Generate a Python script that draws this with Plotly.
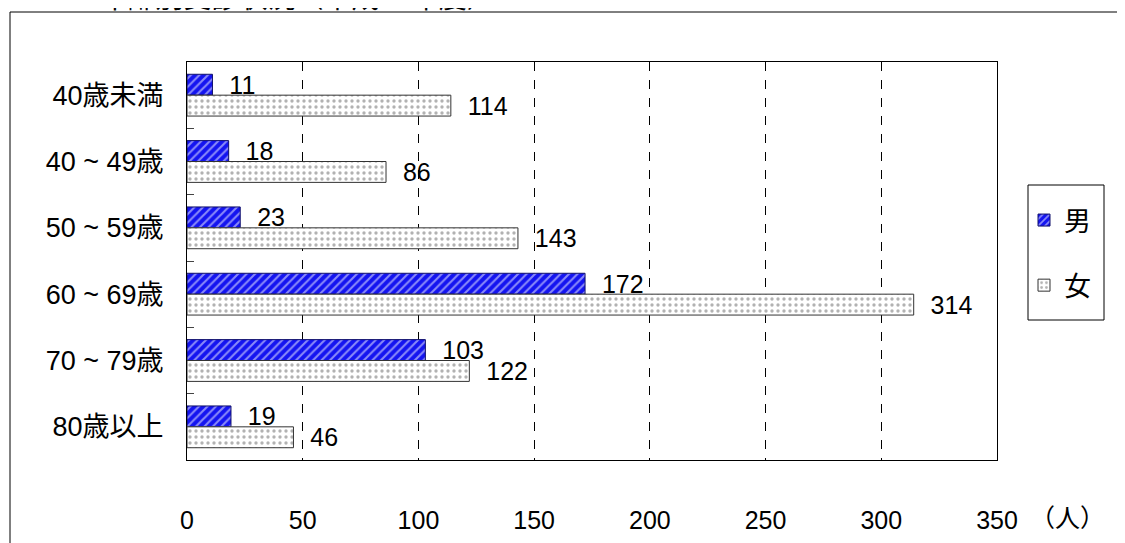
import plotly.graph_objects as go

categories = ["40歳未満", "40 ~ 49歳", "50 ~ 59歳", "60 ~ 69歳", "70 ~ 79歳", "80歳以上"]
male = [11, 18, 23, 172, 103, 19]
female = [114, 86, 143, 314, 122, 46]
series_names = ["男", "女"]
x_ticks = [0, 50, 100, 150, 200, 250, 300, 350]
title_text = "4　　年齢別受診状況（平成16年度）"
unit_text = "（人）"

FONT = "Liberation Sans, Arial, Noto Sans CJK JP, sans-serif"
W, H = 1125, 543
OFF = 8  # page body margin
L, R, T, B = 187 - OFF, 997 - OFF, 62 - OFF, 460 - OFF

def px(x):
    return (x - OFF - L) / (R - L)

def py(y):
    return (B - (y - OFF)) / (B - T)

FS = 25

fig = go.Figure()
fig.add_trace(go.Bar(
    y=categories, x=male, name=series_names[0], orientation="h",
    legendgroup="m",
    marker=dict(color="#1414f0", line=dict(color="#10106a", width=1),
                pattern=dict(shape="/", fgcolor="white", bgcolor="#1414f0",
                             size=6, solidity=0.35)),
    text=male, texttemplate="  %{x}", textposition="outside", cliponaxis=False,
    constraintext="none",
    textfont=dict(size=FS, color="black", family=FONT),
))
fig.add_trace(go.Bar(
    y=categories, x=female, name=series_names[1], orientation="h",
    legendgroup="f",
    marker=dict(color="white", line=dict(color="#333333", width=1),
                pattern=dict(shape=".", fgcolor="#666666", bgcolor="white",
                             size=6, solidity=0.25)),
    text=female, texttemplate="  %{x}", textposition="outside", cliponaxis=False,
    constraintext="none",
    textfont=dict(size=FS, color="black", family=FONT),
))

fig.update_layout(
    width=W, height=H,
    margin=dict(l=L, r=W - R, t=T, b=H - B),
    paper_bgcolor="white", plot_bgcolor="white",
    barmode="group", bargap=0.37, bargroupgap=0,
    font=dict(family=FONT, size=FS, color="black"),
    showlegend=True,
    legend=dict(x=px(1024), y=py(196), xanchor="left", yanchor="top",
                borderwidth=0, bgcolor="rgba(0,0,0,0)",
                font=dict(size=27, family=FONT), tracegroupgap=27,
                itemwidth=30),
    xaxis=dict(range=[0, 350], tickvals=x_ticks, showgrid=True,
               gridcolor="black", griddash="dash", gridwidth=1,
               showline=True, linecolor="black", mirror=True, linewidth=1,
               zeroline=False, ticks="", ticklabelstandoff=38,
               tickfont=dict(size=FS)),
    yaxis=dict(autorange="reversed", showline=True, linecolor="black",
               mirror=True, linewidth=1, ticks="inside", ticklen=7,
               tickcolor="#444444", tickson="boundaries",
               ticklabelstandoff=17, tickfont=dict(size=27)),
    uniformtext=dict(mode=False),
    shapes=[
        dict(type="rect", xref="paper", yref="paper",
             x0=px(10), x1=px(1300), y0=py(700), y1=py(12),
             line=dict(color="black", width=1), layer="below"),
        dict(type="rect", xref="paper", yref="paper",
             x0=px(1028), x1=px(1104), y0=py(320), y1=py(185),
             line=dict(color="black", width=1), fillcolor="white",
             layer="below"),
    ],
    annotations=[
        dict(text=title_text, xref="paper", yref="paper", x=px(26), y=py(15.5),
             xanchor="left", yanchor="bottom", showarrow=False,
             font=dict(size=28, family=FONT)),
        dict(text=unit_text, xref="paper", yref="paper", x=px(1028), y=py(518),
             xanchor="left", yanchor="middle", showarrow=False,
             font=dict(size=FS, family=FONT)),
    ],
)
fig.write_html("out.html")
